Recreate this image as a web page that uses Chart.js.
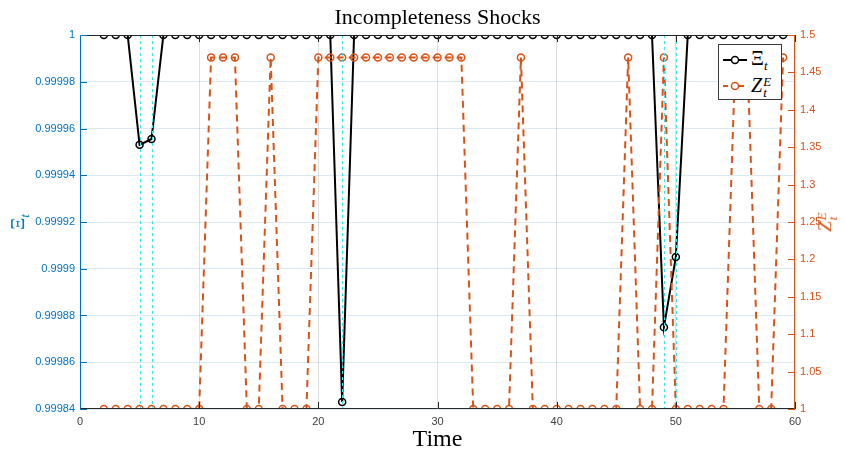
<!DOCTYPE html>
<html>
<head>
<meta charset="utf-8">
<script src="https://cdn.jsdelivr.net/npm/chart.js@4/dist/chart.umd.min.js"></script>
<style>
  html, body { margin: 0; padding: 0; background: #fff; }
  #wrap { position: relative; width: 846px; height: 452px; }
  .ylab {
    position: absolute; white-space: nowrap;
    font-family: 'Liberation Serif', serif; font-size: 19px;
    transform: translate(-50%, -50%) rotate(-90deg);
  }
  .ylab sub, #legend sub { font-size: 13px; font-style: italic; }
  #legend {
    position: absolute; left: 718px; top: 44px; width: 64px; height: 56px;
    box-sizing: border-box; border: 1px solid #3a3a3a; background: #fff;
    font-family: 'Liberation Serif', serif; font-size: 20px; color: #000;
  }
  #legend .row { position: absolute; left: 3px; height: 24px; display: flex; align-items: center; }
  #legend svg { margin-right: 3px; }
  .ss { display: inline-flex; flex-direction: column; font-size: 13px; line-height: 11px; font-style: italic; vertical-align: middle; margin-left: 1px; }
</style>
</head>
<body>
<div id="wrap">
  <canvas id="c" width="846" height="452"></canvas>
  <div class="ylab" style="left:20px; top:222px; color:#0072BD;">Ξ<sub>t</sub></div>
  <div class="ylab" style="left:826px; top:222px; color:#D95319;"><i>Z</i><span class="ss"><span>E</span><span>t</span></span></div>
  <div id="legend">
    <div class="row" style="top:3px;">
      <svg width="26" height="12"><line x1="1" y1="6" x2="25" y2="6" stroke="#000" stroke-width="2"/><circle cx="13" cy="6" r="3.5" fill="#fff" stroke="#000" stroke-width="1.5"/></svg>
      <span>Ξ<sub>t</sub></span>
    </div>
    <div class="row" style="top:29px;">
      <svg width="26" height="12"><line x1="1" y1="6" x2="25" y2="6" stroke="#D95319" stroke-width="2" stroke-dasharray="5,3"/><circle cx="13" cy="6" r="3.5" fill="#fff" stroke="#D95319" stroke-width="1.5"/></svg>
      <span><i>Z</i><span class="ss"><span>E</span><span>t</span></span></span>
    </div>
  </div>
</div>
<script>
/* --------------------------------------------------------------
   DATA
   -------------------------------------------------------------- */
const times = [2, 3, 4, 5, 6, 7, 8, 9, 10, 11, 12, 13, 14, 15, 16, 17, 18, 19, 20,
  21, 22, 23, 24, 25, 26, 27, 28, 29, 30, 31, 32, 33, 34, 35, 36, 37, 38, 39, 40,
  41, 42, 43, 44, 45, 46, 47, 48, 49, 50, 51, 52, 53, 54, 55, 56, 57, 58, 59];

// Xi_t (left axis)
const xiValues = [1, 1, 1, 0.999953, 0.9999555, 1, 1, 1, 1, 1, 1, 1, 1, 1, 1, 1, 1, 1, 1,
  1, 0.999843, 1, 1, 1, 1, 1, 1, 1, 1, 1, 1, 1, 1, 1, 1, 1, 1, 1, 1,
  1, 1, 1, 1, 1, 1, 1, 1, 0.999875, 0.999905, 1, 1, 1, 1, 1, 1, 1, 1, 1];

// Z_t^E (right axis)
const zeValues = [1, 1, 1, 1, 1, 1, 1, 1, 1, 1.47, 1.47, 1.47, 1, 1, 1.47, 1, 1, 1, 1.47,
  1.47, 1.47, 1.47, 1.47, 1.47, 1.47, 1.47, 1.47, 1.47, 1.47, 1.47, 1.47, 1, 1, 1, 1, 1.47, 1, 1, 1,
  1, 1, 1, 1, 1, 1.47, 1, 1, 1.47, 1, 1, 1, 1, 1, 1.47, 1.47, 1, 1, 1.47];

// periods with a shock (cyan markers)
const shockTimes = [5, 6, 22, 49, 50];

const xTicks = [0, 10, 20, 30, 40, 50, 60];

/* --------------------------------------------------------------
   STYLE
   -------------------------------------------------------------- */
const BLUE = '#0072BD';
const ORANGE = '#D95319';
const AXIS = '#262626';
const TICK_LEN = 7;

/* --------------------------------------------------------------
   PLUGIN: clip series to the axes box (markers too)
   -------------------------------------------------------------- */
const clipPlugin = {
  id: 'clipPlugin',
  beforeDatasetDraw(chart) {
    const a = chart.chartArea;
    chart.ctx.save();
    chart.ctx.beginPath();
    chart.ctx.rect(a.left - 6, a.top, a.right - a.left + 12, a.bottom - a.top);
    chart.ctx.clip();
  },
  afterDatasetDraw(chart) {
    chart.ctx.restore();
  }
};

/* --------------------------------------------------------------
   PLUGIN: shock lines, axes box, inward ticks
   -------------------------------------------------------------- */
const axesPlugin = {
  id: 'axesPlugin',
  afterDatasetsDraw(chart) {
    const { ctx, chartArea: a, scales } = chart;
    ctx.save();

    // shock lines
    ctx.strokeStyle = '#3fe3ea';
    ctx.lineWidth = 1;
    ctx.setLineDash([3, 3]);
    shockTimes.forEach(t => {
      const x = Math.round(scales.x.getPixelForValue(t)) + 0.5;
      ctx.beginPath(); ctx.moveTo(x, a.top); ctx.lineTo(x, a.bottom); ctx.stroke();
    });
    ctx.setLineDash([]);

    // x ticks (bottom + top)
    ctx.strokeStyle = AXIS;
    scales.x.ticks.forEach(tk => {
      const x = Math.round(scales.x.getPixelForValue(tk.value)) + 0.5;
      ctx.beginPath();
      ctx.moveTo(x, a.bottom); ctx.lineTo(x, a.bottom - TICK_LEN);
      ctx.moveTo(x, a.top); ctx.lineTo(x, a.top + TICK_LEN);
      ctx.stroke();
    });
    // box top + bottom
    ctx.beginPath();
    ctx.moveTo(a.left, a.top + 0.5); ctx.lineTo(a.right, a.top + 0.5);
    ctx.moveTo(a.left, a.bottom - 0.5); ctx.lineTo(a.right, a.bottom - 0.5);
    ctx.stroke();

    // left axis
    ctx.strokeStyle = BLUE;
    ctx.beginPath();
    ctx.moveTo(a.left + 0.5, a.top); ctx.lineTo(a.left + 0.5, a.bottom);
    scales.yL.ticks.forEach(tk => {
      const y = Math.round(scales.yL.getPixelForValue(tk.value)) + 0.5;
      ctx.moveTo(a.left, y); ctx.lineTo(a.left + TICK_LEN, y);
    });
    ctx.stroke();

    // right axis
    ctx.strokeStyle = ORANGE;
    ctx.beginPath();
    ctx.moveTo(a.right - 0.5, a.top); ctx.lineTo(a.right - 0.5, a.bottom);
    scales.yR.ticks.forEach(tk => {
      const y = Math.round(scales.yR.getPixelForValue(tk.value)) + 0.5;
      ctx.moveTo(a.right, y); ctx.lineTo(a.right - TICK_LEN, y);
    });
    ctx.stroke();

    ctx.restore();
  }
};

/* --------------------------------------------------------------
   CHART
   -------------------------------------------------------------- */
const tickFont = { family: "'Liberation Sans', Arial, sans-serif", size: 11 };

new Chart(document.getElementById('c'), {
  type: 'line',
  data: {
    datasets: [
      {
        label: 'Z_t^E',
        data: times.map((t, i) => ({ x: t, y: zeValues[i] })),
        yAxisID: 'yR',
        borderColor: ORANGE,
        borderWidth: 2,
        borderDash: [7, 5],
        pointRadius: 3.5,
        pointBorderWidth: 1.5,
        pointBorderColor: ORANGE,
        pointBackgroundColor: 'rgba(0,0,0,0)',
        tension: 0,
        order: 0
      },
      {
        label: 'Xi_t',
        data: times.map((t, i) => ({ x: t, y: xiValues[i] })),
        yAxisID: 'yL',
        borderColor: '#000',
        borderWidth: 2,
        pointRadius: 3.5,
        pointBorderWidth: 1.5,
        pointBorderColor: '#000',
        pointBackgroundColor: 'rgba(0,0,0,0)',
        tension: 0,
        order: 1
      }
    ]
  },
  options: {
    responsive: false,
    animation: false,
    devicePixelRatio: 1,
    layout: { padding: 0 },
    plugins: {
      legend: { display: false },
      tooltip: { enabled: false },
      title: {
        display: true,
        fullSize: false,
        text: 'Incompleteness Shocks',
        color: '#000',
        font: { family: "'Liberation Serif', serif", size: 22, weight: 'normal', lineHeight: 24 / 22 },
        padding: { top: 6, bottom: 5 }
      }
    },
    scales: {
      x: {
        type: 'linear',
        min: 0, max: 60,
        afterBuildTicks: s => { s.ticks = xTicks.map(v => ({ value: v })); },
        ticks: { color: '#404040', font: tickFont, padding: 6, maxRotation: 0, autoSkip: false },
        grid: { color: 'rgba(38,38,38,0.15)', drawTicks: false },
        border: { display: false },
        title: {
          display: true, text: 'Time', color: '#000',
          font: { family: "'Liberation Serif', serif", size: 24, lineHeight: 1 }, padding: 0
        },
        afterFit: s => { s.height = 43; }
      },
      yL: {
        position: 'left',
        min: 0.99984, max: 1,
        ticks: {
          stepSize: 0.00002, color: BLUE, font: tickFont, padding: 5,
          callback: v => String(parseFloat(v.toFixed(5)))
        },
        grid: { color: 'rgba(0,114,189,0.15)', drawTicks: false },
        border: { display: false },
        afterFit: s => { s.width = 80; }
      },
      yR: {
        position: 'right',
        min: 1, max: 1.5,
        ticks: {
          stepSize: 0.05, color: ORANGE, font: tickFont, padding: 5,
          callback: v => String(parseFloat(v.toFixed(2)))
        },
        grid: { display: false, drawTicks: false },
        border: { display: false },
        afterFit: s => { s.width = 51; }
      }
    }
  },
  plugins: [clipPlugin, axesPlugin]
});
</script>
</body>
</html>
